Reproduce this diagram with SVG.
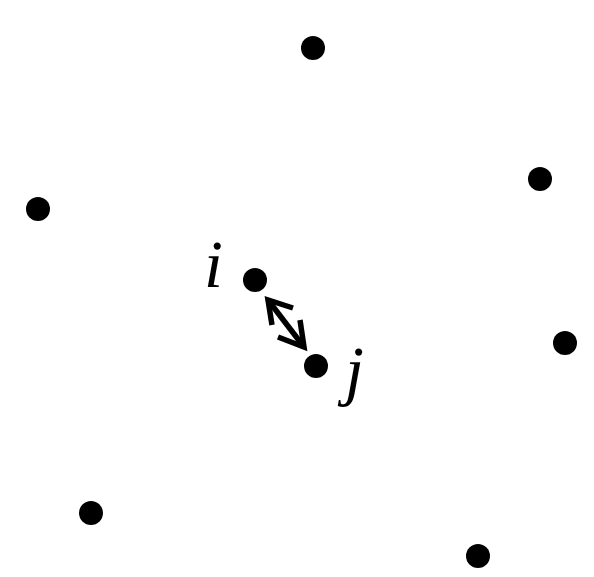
<svg xmlns="http://www.w3.org/2000/svg" width="594" height="577" viewBox="0 0 594 577">
<style>
.n{fill:#000}
.l{font-family:"Liberation Serif",serif;font-style:italic;font-size:68px;fill:#000}
.e{fill:none;stroke:#000;stroke-width:5.5;stroke-linejoin:miter}
</style>
<rect width="594" height="577" fill="#fff"/>
<g id="n1"><circle class="n" cx="313" cy="48" r="12"/></g>
<g id="n2"><circle class="n" cx="540" cy="179" r="12"/></g>
<g id="n3"><circle class="n" cx="38" cy="209" r="12"/></g>
<g id="i"><circle class="n" cx="255" cy="280" r="12"/><text class="l" x="204" y="287">i</text></g>
<g id="j"><circle class="n" cx="316" cy="366" r="12"/><text class="l" x="345" y="393">j</text></g>
<g id="n6"><circle class="n" cx="565" cy="343" r="12"/></g>
<g id="n7"><circle class="n" cx="91" cy="513" r="12"/></g>
<g id="n8"><circle class="n" cx="478" cy="556" r="12"/></g>
<g id="connectors">
<path class="e" d="M268,300 L304,347"/>
<path class="e" d="M272,325 L268,300 L293,308"/>
<path class="e" d="M278,337 L304,347 L300,320"/>
</g>
</svg>
